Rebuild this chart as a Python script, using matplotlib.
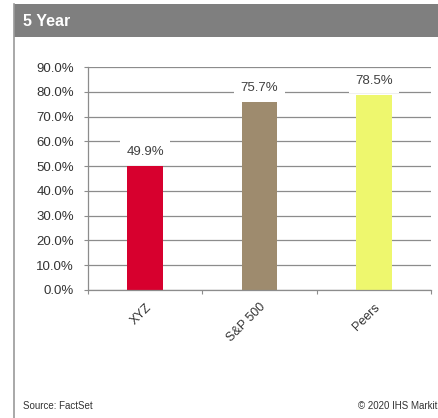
import matplotlib.pyplot as plt
from matplotlib.patches import Rectangle
from matplotlib.lines import Line2D
from matplotlib.ticker import FuncFormatter, MultipleLocator

plt.rcParams['font.family'] = ['Liberation Sans', 'DejaVu Sans']

# data
categories = ['XYZ', 'S&P 500', 'Peers']
returns = [0.499, 0.757, 0.785]
bar_colors = ['#d7002e', '#9e8b6e', '#eef76e']
title = '5 Year'
source_note = 'Source: FactSet'
copyright_note = '\u00a9 2020 IHS Markit'

W, H = 439, 418
fig = plt.figure(figsize=(W / 100, H / 100), dpi=100)

# panel frame: grey header band and left border line
fig.patches.append(Rectangle((14 / W, 1 - 37 / H), 1 - 14 / W, 33 / H,
                             transform=fig.transFigure, facecolor='#7f7f7f',
                             edgecolor='none', zorder=0))
fig.lines.append(Line2D([14 / W, 14 / W], [0, 1 - 4 / H], transform=fig.transFigure,
                        color='#9a9a9a', linewidth=1.2))
fig.text(23 / W, 1 - 21 / H, title, color='white', fontsize=11.5,
         fontweight='bold', va='center', ha='left')

ax = fig.add_axes([88 / W, 1 - 290 / H, (431 - 88) / W, (290 - 67) / H])

x = range(len(categories))
ax.bar(x, returns, width=0.31, color=bar_colors, zorder=2)

ax.set_xlim(-0.5, len(categories) - 0.5)
ax.set_ylim(0, 0.9)
ax.yaxis.set_major_locator(MultipleLocator(0.1))
ax.yaxis.set_major_formatter(FuncFormatter(lambda v, _: f'{v * 100:.1f}%'))
ax.yaxis.grid(True, color='#8c8c8c', linewidth=0.9, zorder=0)
ax.set_axisbelow(True)

# category ticks sit between bars
ax.set_xticks([i - 0.5 for i in range(len(categories) + 1)])
ax.set_xticklabels([])
ax.set_xticks(list(x), minor=True)
ax.set_xticklabels(categories, minor=True, rotation=45, ha='right',
                   rotation_mode='anchor', fontsize=9, color='#333333')
ax.tick_params(axis='x', which='minor', length=0, pad=8)
ax.tick_params(axis='x', which='major', length=3, color='#8c8c8c')
ax.tick_params(axis='y', length=3, color='#8c8c8c', labelsize=9.5,
               labelcolor='#333333', pad=7)

for s in ['top', 'right']:
    ax.spines[s].set_visible(False)
for s in ['left', 'bottom']:
    ax.spines[s].set_color('#8c8c8c')
    ax.spines[s].set_linewidth(0.9)

# value labels sit in white boxes that break the gridlines
for i, v in enumerate(returns):
    ax.annotate(f'{v * 100:.1f}%', (i, v), xytext=(0, 10.5), textcoords='offset points',
                ha='center', va='center', fontsize=9.5, color='#404040',
                bbox=dict(facecolor='white', edgecolor='none', pad=4.5), zorder=3)

fig.text(23 / W, 1 - 406 / H, source_note, fontsize=7, color='#333333',
         ha='left', va='center')
fig.text(437 / W, 1 - 406 / H, copyright_note, fontsize=7, color='#333333',
         ha='right', va='center')

fig.savefig('out.png', dpi=100)
